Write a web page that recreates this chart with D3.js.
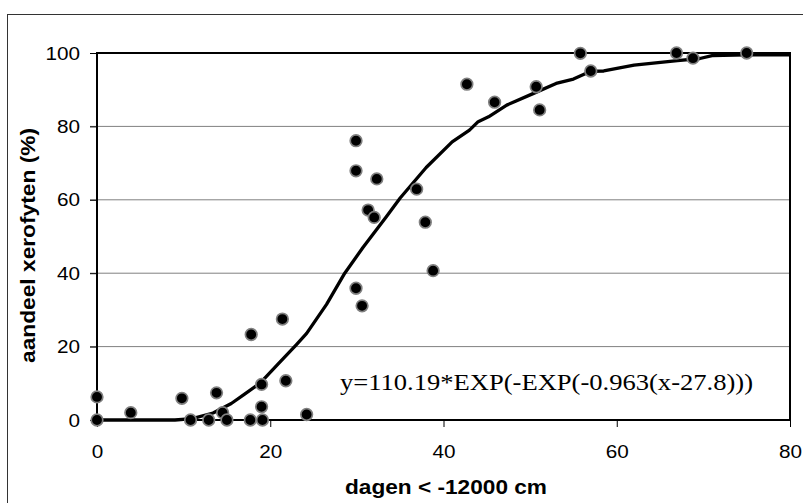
<!DOCTYPE html>
<html>
<head>
<meta charset="utf-8">
<script src="https://cdn.jsdelivr.net/npm/d3@7"></script>
<style>
  body { margin: 0; background: #ffffff; }
  svg { display: block; }
</style>
</head>
<body>
<div id="chart_area"></div>
<script>

// measured data points (dagen < -12000 cm, aandeel xerofyten %)
var dagen = [0, 0, 3.9, 9.8, 10.8, 12.9, 13.8, 14.5, 15,
    17.8, 17.7, 19, 19, 19.1, 21.4, 21.8, 24.2,
    29.9, 29.9, 29.9, 30.6, 31.3, 32, 32.3, 36.9, 37.9, 38.8,
    42.7, 45.9, 50.7, 51.1, 55.8, 57, 66.9, 68.8, 75];
var xerofyten = [6.3, 0, 2, 5.9, 0, 0, 7.4, 2, 0,
    23.3, 0, 9.7, 3.6, 0, 27.5, 10.7, 1.5,
    76.1, 67.9, 35.9, 31.1, 57.2, 55.2, 65.7, 62.9, 53.9, 40.7,
    91.5, 86.6, 90.8, 84.5, 99.9, 95.1, 100, 98.6, 100];

// fitted curve
var fitX = [0, 5, 9, 11, 13.4, 15.5, 17, 18.8, 21, 23, 24.2, 26.5, 28.6, 30.7,
    33.4, 35, 38, 41, 43, 44, 45.2, 47.3, 50.4, 53, 55, 57, 58.5, 62, 67, 69.6, 71, 75, 80];
var fitY = [0, 0, 0, 0.4, 1.9, 4.5, 7, 10, 15.5, 20.5, 23.6, 31.5, 40, 47,
    55.4, 60.5, 68.8, 75.8, 79, 81.3, 82.6, 85.8, 89, 91.7, 92.9, 95, 95.1, 96.7, 97.9, 98.5, 99.3, 99.5, 99.5];

var xTicks = [0, 20, 40, 60, 80];
var yTicks = [0, 20, 40, 60, 80, 100];

var xLabel = "dagen < -12000 cm";
var yLabel = "aandeel xerofyten (%)";
var formula = "y=110.19*EXP(-EXP(-0.963(x-27.8)))";

var margin = { top: 53, right: 13, bottom: 83, left: 97 };

var width = 803 - margin.left - margin.right,
    height = 503 - margin.top - margin.bottom;

var svg = d3.select("#chart_area").append("svg")
    .attr("width", 803)
    .attr("height", 503);

// outer chart border
svg.append("rect")
    .attr("x", 7.5)
    .attr("y", 14.5)
    .attr("width", 796)
    .attr("height", 500)
    .style("fill", "none")
    .style("stroke", "#333333")
    .style("stroke-width", 1);

var g = svg.append("g")
    .attr("transform", "translate(" + margin.left + "," + margin.top + ")");

var x = d3.scaleLinear()
    .domain([0, 80])
    .range([0, width]);

var y = d3.scaleLinear()
    .domain([0, 100])
    .range([height, 0]);

// stretch text a bit wider, like the original
function widen(sel, factor) {
    sel.each(function() {
        var len = this.getComputedTextLength();
        d3.select(this)
            .attr("textLength", len * factor)
            .attr("lengthAdjust", "spacingAndGlyphs");
    });
}

// gridlines
g.selectAll(".grid")
    .data(yTicks.slice(1, -1))
    .enter().append("line")
    .attr("class", "grid")
    .attr("x1", -7)
    .attr("x2", width)
    .attr("y1", function(d) { return y(d); })
    .attr("y2", function(d) { return y(d); })
    .style("stroke", "#808080")
    .style("stroke-width", 1);

// y axis
var yAxis = g.append("g")
    .call(d3.axisLeft(y).tickValues(yTicks).tickSize(7).tickPadding(10).tickFormat(d3.format("d")));
yAxis.select(".domain").remove();
yAxis.selectAll(".tick line").style("stroke", "#000000");
yAxis.selectAll("text")
    .style("font-family", "Liberation Sans, Arial, sans-serif")
    .style("font-size", "19px")
    .style("fill", "#000000")
    .call(widen, 1.09);

// x axis
var xAxis = g.append("g")
    .attr("transform", "translate(0," + height + ")")
    .call(d3.axisBottom(x).tickValues(xTicks).tickSize(7).tickPadding(18).tickFormat(d3.format("d")));
xAxis.select(".domain").remove();
xAxis.selectAll(".tick line").style("stroke", "#000000");
xAxis.selectAll("text")
    .style("font-family", "Liberation Sans, Arial, sans-serif")
    .style("font-size", "19px")
    .style("fill", "#000000")
    .call(widen, 1.09);

// plot frame
g.append("rect")
    .attr("x", 0)
    .attr("y", 0)
    .attr("width", width)
    .attr("height", height)
    .style("fill", "none")
    .style("stroke", "#000000")
    .style("stroke-width", 2);

// axis titles
svg.append("text")
    .attr("x", 446)
    .attr("y", 494)
    .attr("text-anchor", "middle")
    .style("font-family", "Liberation Sans, Arial, sans-serif")
    .style("font-size", "20px")
    .style("font-weight", "bold")
    .attr("textLength", 202)
    .attr("lengthAdjust", "spacingAndGlyphs")
    .text(xLabel);

svg.append("text")
    .attr("transform", "translate(35,245.5) rotate(-90)")
    .attr("text-anchor", "middle")
    .style("font-family", "Liberation Sans, Arial, sans-serif")
    .style("font-size", "20px")
    .style("font-weight", "bold")
    .attr("textLength", 235)
    .attr("lengthAdjust", "spacingAndGlyphs")
    .text(yLabel);

// fitted curve
var line = d3.line()
    .x(function(d) { return x(d[0]); })
    .y(function(d) { return y(d[1]); });

g.append("path")
    .datum(d3.zip(fitX, fitY))
    .attr("d", line)
    .style("fill", "none")
    .style("stroke", "#000000")
    .style("stroke-width", 3.3)
    .style("stroke-linejoin", "round");

// data points
g.selectAll(".dot")
    .data(d3.zip(dagen, xerofyten))
    .enter().append("circle")
    .attr("class", "dot")
    .attr("cx", function(d) { return x(d[0]); })
    .attr("cy", function(d) { return y(d[1]); })
    .attr("r", 5.8)
    .style("fill", "#000000")
    .style("stroke", "#808080")
    .style("stroke-width", 1.7);

// formula label
svg.append("text")
    .attr("x", 340)
    .attr("y", 390)
    .style("font-family", "Liberation Serif, Times New Roman, serif")
    .style("font-size", "22.5px")
    .attr("textLength", 413)
    .attr("lengthAdjust", "spacingAndGlyphs")
    .text(formula);

</script>
</body>
</html>
